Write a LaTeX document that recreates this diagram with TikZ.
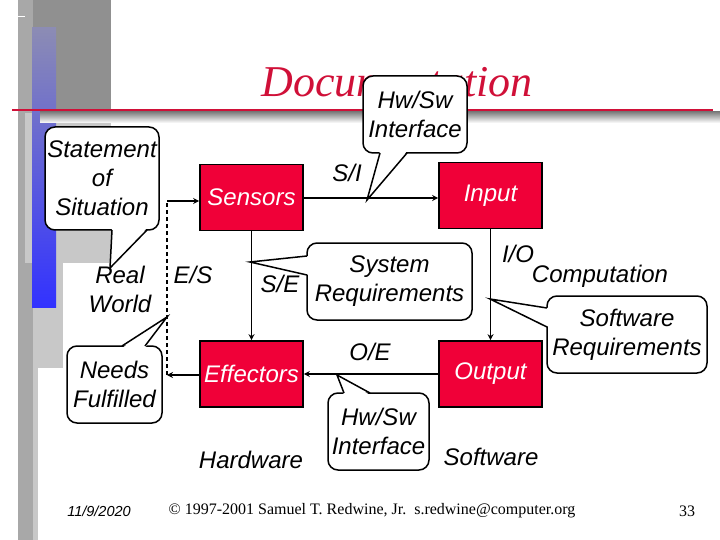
\documentclass[tikz,border=0pt]{standalone}
\usepackage{fontspec}
\setmainfont{Liberation Sans}
\newfontfamily\seriffont{Liberation Serif}
\usetikzlibrary{arrows.meta,calc}
\definecolor{crim}{RGB}{208,16,56}
\definecolor{boxred}{RGB}{240,0,56}
\definecolor{panel}{RGB}{200,200,200}
\definecolor{strip}{RGB}{168,168,168}
\definecolor{topgray}{RGB}{144,144,144}
\newcommand\mytail[4]{%
  \fill[white] ($#1+#4$) -- #2 -- ($#3+#4$) -- cycle;
  \draw[tailline] #1 -- #2 -- #3;}
\begin{document}
\begin{tikzpicture}[x=1pt,y=-1pt,
  lbl/.style={font=\fontsize{24}{29}\selectfont\itshape, align=center, inner sep=0pt},
  redbox/.style={draw=black, line width=1.6pt, fill=boxred, text=white,
    font=\fontsize{24}{29}\selectfont\itshape, minimum width=103pt, minimum height=66pt, inner sep=0pt},
  bub/.style={draw=black, line width=1.5pt, fill=white, rounded corners=10pt,
    font=\fontsize{24}{29}\selectfont\itshape, align=center, inner sep=0pt},
  tailline/.style={draw=black, line width=1.5pt, line join=miter},
  conn/.style={line width=1.4pt, -{Stealth[length=6pt,width=6pt]}},
  foot/.style={inner sep=0pt}]
\useasboundingbox (0,0) rectangle (720,540);
% left decoration
\fill[strip] (18,0) rectangle (33,540);
\fill[topgray] (33,0) rectangle (111,110);
\fill[panel] (25,113) rectangle (111,263);
\fill[panel] (33,263) rectangle (63,368);
\fill[panel] (33,368) rectangle (38,540);
\shade[top color={rgb,255:red,140;green,140;blue,180}, bottom color={rgb,255:red,50;green,50;blue,255}] (32,28) rectangle (56,307);
\draw[white, line width=1pt] (18,17) -- (25,17);
% title rule and shadow
\shade[top color=gray, bottom color=white] (40,112) rectangle (720,123);
\draw[crim, line width=2pt] (12,110) -- (713,110);
\node[inner sep=0pt, anchor=base, text=crim, font=\seriffont\fontsize{44}{50}\selectfont\itshape] (title) at (397,97) {Documentation};
% red boxes
\node[redbox] (sensors) at (251.5,197.5) {Sensors};
\node[redbox] (input) at (490.5,195.5) {Input};
\node[redbox] (effectors) at (251.5,374) {Effectors};
\node[redbox] (output) at (490.5,374) {Output};
% connectors
\coordinate (es) at (167,375);
\coordinate (se) at (167,201);
\draw[conn] (sensors.east |- 0,198) -- (input.west |- 0,198);
\draw[conn] (sensors.south) -- (effectors.north);
\draw[conn, line width=1pt] (input.south) -- (output.north);
\draw[conn] (output.west) -- (effectors.east);
\draw[conn] (effectors.west |- es) -- (es);
\draw[line width=1.2pt, dashed, dash pattern=on 4pt off 3pt] (es) -- (se);
\draw[conn] (se) -- (se -| sensors.west);
% labels
\node[lbl] (si) at (347,173) {S/I};
\node[lbl] (esl) at (193,275) {E/S};
\node[lbl] (sel) at (280,284) {S/E};
\node[lbl] (real) at (120,289) {Real\\World};
\node[lbl] (io) at (518,254) {I/O};
\node[lbl] (comp) at (600,276) {Computation};
\node[lbl] (oe) at (370,352) {O/E};
\node[lbl] (hw) at (251,460) {Hardware};
\node[lbl] (sw) at (491,457) {Software};
% callouts
\node[bub, minimum width=114pt, minimum height=103pt] (stmt) at (102,178.5) {Statement\\of\\Situation};
\mytail{(112,230)}{(110,268)}{(147,230)}{(0,-2)}
\node[bub, minimum width=104pt, minimum height=77pt] (hwtop) at (415,114.5) {Hw/Sw\\Interface};
\mytail{(380,153)}{(367,200)}{(407,153)}{(0,-2)}
\node[bub, minimum width=165pt, minimum height=77pt] (sysreq) at (389.5,281.5) {System\\Requirements};
\mytail{(307,256)}{(250,262)}{(307,275)}{(2,0)}
\node[bub, minimum width=160pt, minimum height=77pt] (swreq) at (627,334.5) {Software\\Requirements};
\mytail{(547,308)}{(490,299)}{(547,327)}{(2,0)}
\node[bub, minimum width=101pt, minimum height=77pt] (hwbot) at (378.5,431.5) {Hw/Sw\\Interface};
\mytail{(344,393)}{(337,375)}{(370,393)}{(0,2)}
\node[bub, minimum width=95pt, minimum height=77pt] (needs) at (114.5,384.5) {Needs\\Fulfilled};
\mytail{(122,346)}{(167,317)}{(145,346)}{(0,2)}
% footer
\node[foot, font=\fontsize{14.5}{16}\selectfont\itshape] (date) at (99,511) {11/9/2020};
\node[foot, font=\seriffont\fontsize{16}{18}\selectfont] (copy) at (372,511) {© 1997-2001 Samuel T. Redwine, Jr.\ \ s.redwine@computer.org};
\node[foot, font=\seriffont\fontsize{16}{18}\selectfont] (page) at (687,511) {33};
\end{tikzpicture}
\end{document}
